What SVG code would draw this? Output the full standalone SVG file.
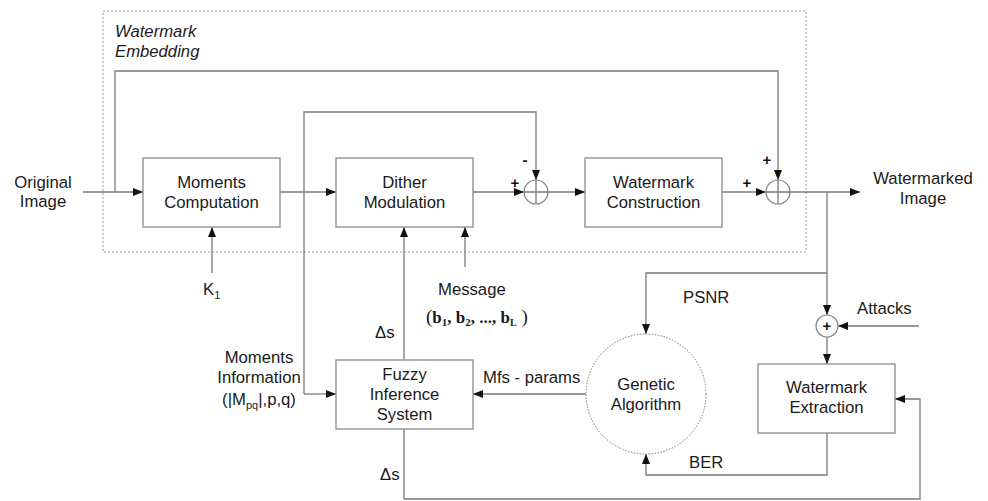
<svg xmlns="http://www.w3.org/2000/svg" width="988" height="501" viewBox="0 0 988 501">
<defs>
<marker id="ah" viewBox="0 0 10 8" refX="10" refY="4" markerWidth="10" markerHeight="8" markerUnits="userSpaceOnUse" orient="auto">
<path d="M0,0 L10,4 L0,8 Z" fill="#111"/>
</marker>
<style>
.ln{fill:none;stroke:#7a7a7a;stroke-width:1.3}
.bx{fill:#fff;stroke:#8a8a8a;stroke-width:1.3}
.t{font-family:"Liberation Sans",Arial,sans-serif;font-size:16.7px;fill:#1a1a1a}
.c{text-anchor:middle}
.sm{font-family:"Liberation Sans",Arial,sans-serif;font-size:15px;fill:#111;font-weight:bold}
</style>
</defs>
<rect width="988" height="501" fill="#fff"/>
<g id="embedding-frame">
<rect x="103" y="11" width="703" height="241" fill="none" stroke="#999" stroke-width="1" stroke-dasharray="2,2"/>
<text class="t" x="115" y="37" font-style="italic">Watermark</text>
<text class="t" x="115" y="57" font-style="italic">Embedding</text>
</g>
<g id="connectors">
<path class="ln" d="M83,192 H143" marker-end="url(#ah)"/>
<path class="ln" d="M115,192 V71 H778 V180" marker-end="url(#ah)"/>
<path class="ln" d="M280,192 H336" marker-end="url(#ah)"/>
<path class="ln" d="M473,192 H524" marker-end="url(#ah)"/>
<path class="ln" d="M304,394 V112 H536 V180" marker-end="url(#ah)"/>
<path class="ln" d="M304,394 H336" marker-end="url(#ah)"/>
<path class="ln" d="M548,192 H585" marker-end="url(#ah)"/>
<path class="ln" d="M722,192 H766" marker-end="url(#ah)"/>
<path class="ln" d="M790,192 H860" marker-end="url(#ah)"/>
<path class="ln" d="M212,273 V227" marker-end="url(#ah)"/>
<path class="ln" d="M404,360 V227" marker-end="url(#ah)"/>
<path class="ln" d="M465,267 V227" marker-end="url(#ah)"/>
<path class="ln" d="M827,192 V315" marker-end="url(#ah)"/>
<path class="ln" d="M827,273 H646 V334" marker-end="url(#ah)"/>
<path class="ln" d="M919,326 H838" marker-end="url(#ah)"/>
<path class="ln" d="M827,337 V364" marker-end="url(#ah)"/>
<path class="ln" d="M827,433 V475 H646 V454" marker-end="url(#ah)"/>
<path class="ln" d="M586,394 H473" marker-end="url(#ah)"/>
<path class="ln" d="M404,429 V499 H920 V399 H895" marker-end="url(#ah)"/>
</g>
<g id="sum1">
<circle cx="536" cy="192" r="12" fill="#fff" stroke="#888" stroke-width="1.2"/>
<path class="ln" d="M524,192 H548 M536,180 V204" stroke-width="1"/>
<text class="sm" x="515" y="188" text-anchor="middle">+</text>
<text class="sm" x="525" y="165" text-anchor="middle">-</text>
</g>
<g id="sum2">
<circle cx="778" cy="192" r="12" fill="#fff" stroke="#888" stroke-width="1.2"/>
<path class="ln" d="M766,192 H790 M778,180 V204" stroke-width="1"/>
<text class="sm" x="747" y="188" text-anchor="middle">+</text>
<text class="sm" x="767" y="165" text-anchor="middle">+</text>
</g>
<g id="sum-attack">
<circle cx="827" cy="326" r="11" fill="#fff" stroke="#888" stroke-width="1.2"/>
<text class="sm" x="827" y="331" text-anchor="middle" font-size="15">+</text>
</g>
<g id="moments-computation">
<rect class="bx" x="143" y="158" width="137" height="69"/>
<text class="t c" x="211.5" y="188">Moments</text>
<text class="t c" x="211.5" y="208">Computation</text>
</g>
<g id="dither-modulation">
<rect class="bx" x="336" y="158" width="137" height="69"/>
<text class="t c" x="404.5" y="188">Dither</text>
<text class="t c" x="404.5" y="208">Modulation</text>
</g>
<g id="watermark-construction">
<rect class="bx" x="585" y="158" width="137" height="69"/>
<text class="t c" x="653.5" y="188">Watermark</text>
<text class="t c" x="653.5" y="208">Construction</text>
</g>
<g id="fuzzy-inference">
<rect class="bx" x="336" y="360" width="137" height="69"/>
<text class="t c" x="404.5" y="380">Fuzzy</text>
<text class="t c" x="404.5" y="400">Inference</text>
<text class="t c" x="404.5" y="420">System</text>
</g>
<g id="genetic-algorithm">
<circle cx="646" cy="394" r="60" fill="#fff" stroke="#777" stroke-width="1" stroke-dasharray="1.5,1.5"/>
<text class="t c" x="646" y="390">Genetic</text>
<text class="t c" x="646" y="410">Algorithm</text>
</g>
<g id="watermark-extraction">
<rect class="bx" x="758" y="364" width="137" height="69"/>
<text class="t c" x="826.5" y="393">Watermark</text>
<text class="t c" x="826.5" y="413">Extraction</text>
</g>
<g id="labels">
<text class="t c" x="43" y="188">Original</text>
<text class="t c" x="43" y="207">Image</text>
<text class="t c" x="923" y="184">Watermarked</text>
<text class="t c" x="923" y="204">Image</text>
<text class="t" x="203" y="295">K<tspan font-size="11" dy="4">1</tspan></text>
<text class="t" x="438" y="295">Message</text>
<text x="426" y="323" font-family="Liberation Serif,'Times New Roman',serif" font-size="17" font-weight="bold" fill="#1a1a1a"><tspan font-weight="normal" font-size="19">(</tspan>b<tspan font-size="11" dy="3">1</tspan><tspan dy="-3">, </tspan>b<tspan font-size="11" dy="3">2</tspan><tspan dy="-3">, ..., </tspan>b<tspan font-size="10" dy="3">L</tspan><tspan dy="-3" font-weight="normal" font-size="19"> )</tspan></text>
<text class="t" x="375" y="338">Δs</text>
<text class="t" x="380" y="480">Δs</text>
<text class="t c" x="259" y="363">Moments</text>
<text class="t c" x="259" y="383">Information</text>
<text class="t c" x="259" y="405">(|M<tspan font-size="11" dy="4">pq</tspan><tspan dy="-4">|,p,q)</tspan></text>
<text class="t" x="483" y="383">Mfs - params</text>
<text class="t" x="683" y="303">PSNR</text>
<text class="t" x="857" y="314">Attacks</text>
<text class="t" x="689" y="468">BER</text>
</g>
</svg>
